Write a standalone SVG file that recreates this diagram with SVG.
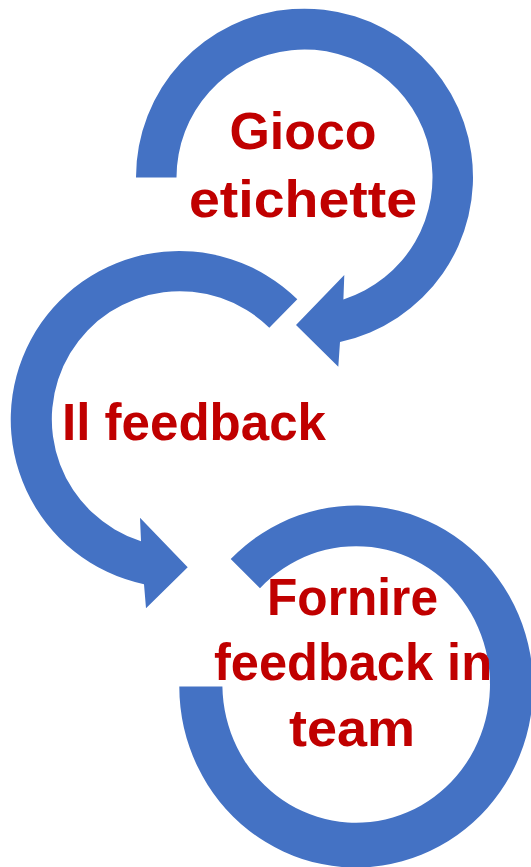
<svg xmlns="http://www.w3.org/2000/svg" width="531" height="867" viewBox="0 0 531 867">
  <style>
    .arrow { fill: #4472C4; stroke: none; }
    .label { font-family: "Liberation Sans", Arial, sans-serif; font-weight: bold; font-size: 52px; fill: #C00000; text-anchor: middle; }
  </style>
  <rect x="0" y="0" width="531" height="867" fill="#FFFFFF"/>
  <g id="connectors">
    <path id="arrow-1" class="arrow" d="M 136,177.5 A 168.5 168.5 0 1 1 340,341.9 L 338.3,366.7 L 296,325 L 344.3,275 L 343.4,299.4 A 128 128 0 1 0 176.5,177.5 Z"/>
    <path id="arrow-2" class="arrow" d="M 297.3,299.3 A 168.5 168.5 0 1 0 144,584.3 L 146,608.3 L 187.7,567.3 L 140,517.7 L 141,541.2 A 128 128 0 1 1 269.3,327.7 Z"/>
    <path id="arrow-3" class="arrow" d="M 179.3,686.5 A 176.9 181 0 1 0 230.7,559 L 260,588.3 A 133.8 138.3 0 1 1 222.4,686.5 Z"/>
  </g>
  <g id="node-gioco">
    <text class="label" x="303" y="148.5" textLength="147" lengthAdjust="spacingAndGlyphs">Gioco</text>
    <text class="label" x="303" y="216.5" textLength="228" lengthAdjust="spacingAndGlyphs">etichette</text>
  </g>
  <g id="node-feedback">
    <text class="label" x="194" y="440" textLength="264" lengthAdjust="spacingAndGlyphs">Il feedback</text>
  </g>
  <g id="node-team">
    <text class="label" x="352.5" y="615" textLength="171" lengthAdjust="spacingAndGlyphs">Fornire</text>
    <text class="label" x="353" y="680" textLength="278" lengthAdjust="spacingAndGlyphs">feedback in</text>
    <text class="label" x="352" y="746" textLength="126" lengthAdjust="spacingAndGlyphs">team</text>
  </g>
</svg>
